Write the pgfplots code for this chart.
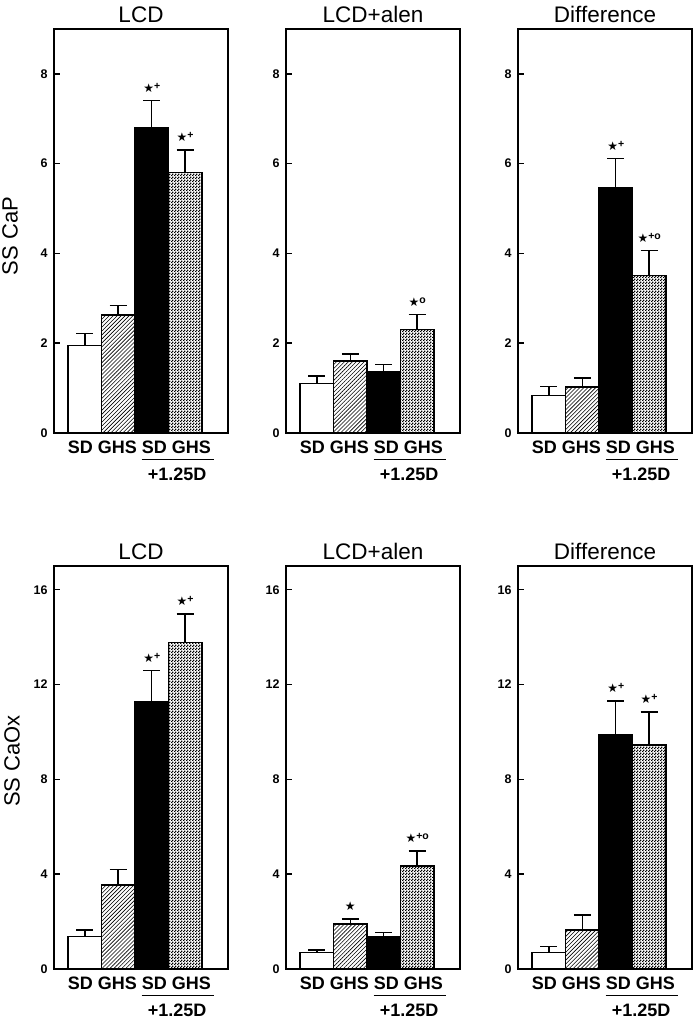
\documentclass[border=0pt]{standalone}
\usepackage{fontspec}
\setmainfont{Liberation Sans}
\newfontfamily\dejavu{DejaVu Sans}
\usepackage{pgfplots}
\pgfplotsset{compat=1.18}
\usetikzlibrary{patterns,patterns.meta}

\pgfdeclarepatternformonly{finechecker}{\pgfpointorigin}{\pgfqpoint{3pt}{3pt}}{\pgfqpoint{3pt}{3pt}}{%
  \pgfpathrectangle{\pgfpointorigin}{\pgfqpoint{1.65pt}{1.65pt}}%
  \pgfpathrectangle{\pgfqpoint{1.5pt}{1.5pt}}{\pgfqpoint{1.65pt}{1.65pt}}%
  \pgfusepath{fill}}

\newcommand{\st}{{\dejavu\fontsize{12}{12}\selectfont ★}}
\newcommand{\up}[1]{\raisebox{3pt}{\bfseries\fontsize{10.5}{10.5}\selectfont #1}}

\tikzset{
  catlab/.style={anchor=north, inner sep=0pt, yshift=-8pt, font=\bfseries\fontsize{18}{18}\selectfont},
}

\pgfplotsset{
  panel/.style={
    scale only axis, width=174pt,
    xmin=-0.92, xmax=4.28, ymin=0,
    axis line style={line width=1.6pt},
    clip=false,
    ytick pos=left, tick align=inside,
    major tick length=6pt,
    tick style={line width=1.5pt, black},
    xtick=\empty,
    /pgf/number format/assume math mode=true,
    yticklabel style={font=\bfseries\fontsize{12.5}{13}\selectfont, xshift=-3pt},
  },
  top/.style={panel, height=404pt, ymax=9, ytick={0,2,4,6,8}},
  bot/.style={panel, height=403pt, ymax=17, ytick={0,4,8,12,16}},
  bbase/.style={ybar, bar width=1, bar shift=0pt, draw=black, line width=1.5pt,
    error bars/.cd, y dir=plus, y explicit, error mark=-,
    error bar style={line width=1.5pt, black},
    error mark options={rotate=90, line width=1.5pt, mark size=8.5pt, black}},
  bA/.style={fill=white, bbase},
  bB/.style={pattern={Lines[angle=45,distance=2.8pt,line width=0.6pt]}, bbase},
  bC/.style={fill=black, bbase},
  bD/.style={pattern=finechecker, bbase},
}

\newcommand{\decor}[1]{%
  \node[anchor=base, font=\fontsize{22.5}{23}\selectfont, yshift=6.5pt] at (rel axis cs:0.5,1) {#1};
  \node[catlab] at (axis cs:1.63,0) {SD GHS SD GHS};
  \draw[line width=1.5pt] ([yshift=-26.5pt]axis cs:1.70,0) -- ([yshift=-26.5pt]axis cs:3.86,0);
  \node[font=\bfseries\fontsize{18}{18}\selectfont] at ([yshift=-41pt]axis cs:2.76,0) {+1.25D};
}
\newcommand{\ann}[3]{\node[anchor=south, inner sep=0pt, yshift=8pt] at (axis cs:#1,#2) {#3};}

\begin{document}
\begin{tikzpicture}[x=1pt,y=1pt]
\useasboundingbox (0,0) rectangle (693,1019);

% ---------- top row: SS CaP ----------
\begin{axis}[top, at={(54pt,586pt)}, anchor=south west]
\addplot[bA] coordinates {(0,1.95) +- (0,0.27)};
\addplot[bB] coordinates {(1,2.63) +- (0,0.21)};
\addplot[bC] coordinates {(2,6.81) +- (0,0.60)};
\addplot[bD] coordinates {(3,5.80) +- (0,0.50)};
\ann{2}{7.41}{\st\up{+}}
\ann{3}{6.30}{\st\up{+}}
\decor{LCD}
\end{axis}

\begin{axis}[top, at={(286pt,586pt)}, anchor=south west]
\addplot[bA] coordinates {(0,1.10) +- (0,0.17)};
\addplot[bB] coordinates {(1,1.60) +- (0,0.16)};
\addplot[bC] coordinates {(2,1.37) +- (0,0.16)};
\addplot[bD] coordinates {(3,2.30) +- (0,0.34)};
\ann{3}{2.64}{\st\up{o}}
\decor{LCD+alen}
\end{axis}

\begin{axis}[top, at={(518pt,586pt)}, anchor=south west]
\addplot[bA] coordinates {(0,0.84) +- (0,0.20)};
\addplot[bB] coordinates {(1,1.03) +- (0,0.20)};
\addplot[bC] coordinates {(2,5.46) +- (0,0.65)};
\addplot[bD] coordinates {(3,3.51) +- (0,0.56)};
\ann{2}{6.11}{\st\up{+}}
\ann{3}{4.07}{\st\up{+o}}
\decor{Difference}
\end{axis}

% ---------- bottom row: SS CaOx ----------
\begin{axis}[bot, at={(54pt,50pt)}, anchor=south west]
\addplot[bA] coordinates {(0,1.37) +- (0,0.28)};
\addplot[bB] coordinates {(1,3.54) +- (0,0.66)};
\addplot[bC] coordinates {(2,11.26) +- (0,1.33)};
\addplot[bD] coordinates {(3,13.78) +- (0,1.20)};
\ann{2}{12.59}{\st\up{+}}
\ann{3}{14.98}{\st\up{+}}
\decor{LCD}
\end{axis}

\begin{axis}[bot, at={(286pt,50pt)}, anchor=south west]
\addplot[bA] coordinates {(0,0.70) +- (0,0.11)};
\addplot[bB] coordinates {(1,1.89) +- (0,0.21)};
\addplot[bC] coordinates {(2,1.37) +- (0,0.17)};
\addplot[bD] coordinates {(3,4.34) +- (0,0.63)};
\ann{1}{2.10}{\st}
\ann{3}{4.97}{\st\up{+o}}
\decor{LCD+alen}
\end{axis}

\begin{axis}[bot, at={(518pt,50pt)}, anchor=south west]
\addplot[bA] coordinates {(0,0.70) +- (0,0.25)};
\addplot[bB] coordinates {(1,1.65) +- (0,0.63)};
\addplot[bC] coordinates {(2,9.87) +- (0,1.43)};
\addplot[bD] coordinates {(3,9.45) +- (0,1.40)};
\ann{2}{11.30}{\st\up{+}}
\ann{3}{10.85}{\st\up{+}}
\decor{Difference}
\end{axis}

\node[rotate=90, font=\fontsize{22}{22}\selectfont] at (10,783) {SS CaP};
\node[rotate=90, font=\fontsize{22}{22}\selectfont] at (12,258) {SS CaOx};
\end{tikzpicture}
\end{document}
